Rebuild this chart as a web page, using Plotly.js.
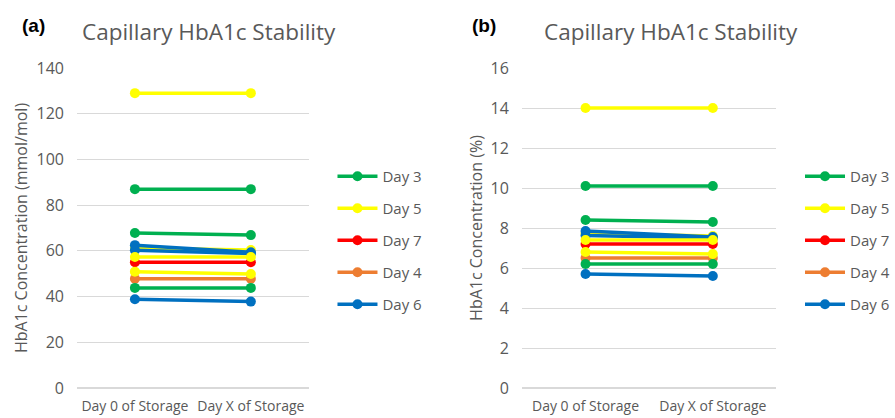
<!DOCTYPE html>
<html>
<head>
<meta charset="utf-8">
<script src="https://cdn.plot.ly/plotly-3.0.1.min.js"></script>
<style>html,body{margin:0;padding:0;background:#fff;}#chart{width:895px;height:418px;}</style>
</head>
<body>
<div id="chart"></div>
<script>
// ---- data ----
const categories = ["Day 0 of Storage", "Day X of Storage"];
const seriesNames = ["Day 3", "Day 5", "Day 7", "Day 4", "Day 6",
                     "Day 3", "Day 5", "Day 6", "Day 6", "Day 5", "Day 5", "Day 3"];
const seriesColors = ["#00B050", "#FFFF00", "#FF0000", "#ED7D31", "#0070C0",
                      "#00B050", "#FFFF00", "#0070C0", "#0070C0", "#FFFF00", "#FFFF00", "#00B050"];
const inLegend = [true, true, true, true, true, false, false, false, false, false, false, false];
// panel (a): mmol/mol
const mmolValues = [
  [87, 87],
  [129, 129],
  [55, 55],
  [47.8, 47.8],
  [38.8, 37.8],
  [67.8, 66.9],
  [61.2, 60.4],
  [62.5, 59.4],
  [60.3, 58.8],
  [57.3, 57.3],
  [50.9, 49.9],
  [43.8, 43.8]
];
// panel (b): %
const pctValues = [
  [10.1, 10.1],
  [14.0, 14.0],
  [7.2, 7.2],
  [6.5, 6.5],
  [5.7, 5.6],
  [8.4, 8.3],
  [7.72, 7.6],
  [7.85, 7.55],
  [7.62, 7.5],
  [7.4, 7.4],
  [6.8, 6.7],
  [6.2, 6.2]
];
const yTicksA = [0, 20, 40, 60, 80, 100, 120, 140];
const yTicksB = [0, 2, 4, 6, 8, 10, 12, 14, 16];
const titleText = "Capillary HbA1c Stability";
const yTitleA = "HbA1c Concentration (mmol/mol)";
const yTitleB = "HbA1c Concentration (%)";

// ---- traces ----
const FONT = "Open Sans, sans-serif";
const GREY = "#595959";
const traces = [];
function addPanel(values, xa, ya, legendId) {
  values.forEach((v, i) => {
    traces.push({
      type: "scatter", mode: "lines+markers",
      x: categories, y: v,
      name: seriesNames[i],
      legend: legendId,
      legendgroup: legendId + "_" + i,
      showlegend: inLegend[i],
      xaxis: xa, yaxis: ya,
      line: {color: seriesColors[i], width: 3.5},
      marker: {color: seriesColors[i], size: 10},
      hoverinfo: "x+y"
    });
  });
}
addPanel(mmolValues, "x", "y", "legend");
addPanel(pctValues, "x2", "y2", "legend2");

const W = 895, H = 418;
const px = v => v / W, py = v => 1 - v / H;

const xCommon = {
  type: "category", range: [-0.5, 1.5], showgrid: false, zeroline: false,
  showline: false, ticks: "", tickangle: 0,
  tickfont: {family: FONT, size: 14, color: GREY},
  ticklabelstandoff: 8, fixedrange: true
};
const yCommon = {
  showgrid: true, gridcolor: "#D9D9D9", gridwidth: 1, zeroline: true,
  zerolinecolor: "#D9D9D9", zerolinewidth: 1.5, showline: false, ticks: "",
  tickfont: {family: FONT, size: 16, color: GREY}, ticklabelstandoff: 12,
  fixedrange: true
};

const layout = {
  width: W, height: H,
  margin: {l: 0, r: 0, t: 0, b: 0},
  paper_bgcolor: "#ffffff", plot_bgcolor: "#ffffff",
  font: {family: FONT, color: GREY},
  xaxis: Object.assign({}, xCommon, {domain: [px(78), px(313)], anchor: "y"}),
  yaxis: Object.assign({}, yCommon, {domain: [py(388), py(68)], anchor: "x",
    range: [0, 140], tickvals: yTicksA,
    title: {text: yTitleA, font: {family: FONT, size: 16, color: GREY}, standoff: 4}}),
  xaxis2: Object.assign({}, xCommon, {domain: [px(529), px(787)], anchor: "y2"}),
  yaxis2: Object.assign({}, yCommon, {domain: [py(388), py(68)], anchor: "x2",
    range: [0, 16], tickvals: yTicksB,
    title: {text: yTitleB, font: {family: FONT, size: 16, color: GREY}, standoff: 4}}),
  legend: {x: px(337), y: py(160), xanchor: "left", yanchor: "top",
    font: {family: FONT, size: 15, color: GREY}, tracegroupgap: 9.5, itemwidth: 40,
    bgcolor: "rgba(0,0,0,0)", traceorder: "grouped"},
  legend2: {x: px(811), y: py(160), xanchor: "left", yanchor: "top",
    font: {family: FONT, size: 15, color: GREY}, tracegroupgap: 9.5, itemwidth: 40,
    bgcolor: "rgba(0,0,0,0)", traceorder: "grouped"},
  annotations: [
    {text: titleText, xref: "paper", yref: "paper", x: px(212), y: py(31),
     xanchor: "center", yanchor: "middle", showarrow: false,
     font: {family: FONT, size: 22.5, color: GREY}},
    {text: titleText, xref: "paper", yref: "paper", x: px(680), y: py(31),
     xanchor: "center", yanchor: "middle", showarrow: false,
     font: {family: FONT, size: 22.5, color: GREY}},
    {text: "<b>(a)</b>", xref: "paper", yref: "paper", x: px(34), y: py(26),
     xanchor: "center", yanchor: "middle", showarrow: false,
     font: {family: "Liberation Sans, Arial, sans-serif", size: 19, color: "#000000"}},
    {text: "<b>(b)</b>", xref: "paper", yref: "paper", x: px(491), y: py(26),
     xanchor: "center", yanchor: "middle", showarrow: false,
     font: {family: "Liberation Sans, Arial, sans-serif", size: 19, color: "#000000"}}
  ],
  showlegend: true
};

Plotly.newPlot("chart", traces, layout, {displayModeBar: false, staticPlot: true});
</script>
</body>
</html>
